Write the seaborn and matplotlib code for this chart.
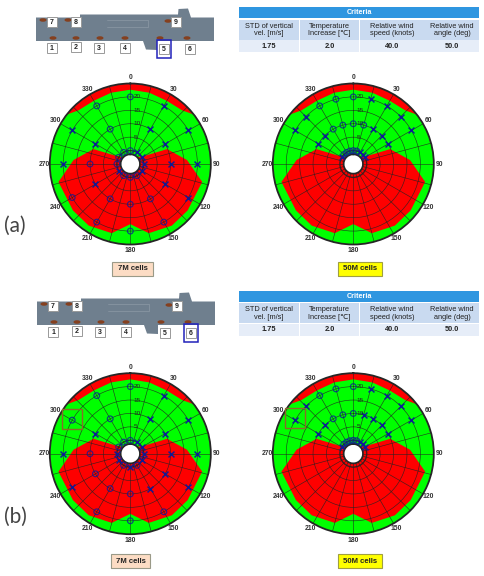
#!/usr/bin/env python3
"""Polar wind envelopes for 7M / 50M cells, two ship positions."""

import matplotlib
matplotlib.use("Agg")
import matplotlib.pyplot as plt
import numpy as np
import pandas as pd
import seaborn as sns
from matplotlib.patches import Ellipse, Polygon, Rectangle

W, H = 484, 576

# wind angle [deg], wind speed [knots]
a7_circle_theta = [0, 330, 330, 270, 240, 210, 150, 210, 150, 180, 180, 0, 330, 300, 270, 210, 150, 180]
a7_circle_r = [20, 20, 10, 10, 20, 10, 10, 20, 20, 10, 20, 0, 0, 0, 0, 0, 0, 0]
a7_cross_theta = [30, 30, 300, 60, 300, 60, 270, 90, 90, 240, 120, 120, 30, 60, 90, 120, 240]
a7_cross_r = [20, 10, 20, 20, 10, 10, 20, 20, 10, 10, 10, 20, 0, 0, 0, 0, 0]

a50_circle_theta = [0, 345, 330, 0, 15, 345, 330, 315, 330, 345, 0, 15]
a50_circle_r = [20, 20, 20, 10, 10, 10, 10, 0, 0, 0, 0, 0]
a50_cross_theta = [15, 30, 45, 60, 315, 300, 30, 45, 60, 315, 300, 300, 30, 45, 60]
a50_cross_r = [20, 20, 20, 20, 20, 20, 10, 10, 10, 10, 10, 0, 0, 0, 0]

b7_circle_theta = [0, 330, 330, 300, 270, 240, 210, 210, 150, 180, 180, 0, 330, 300, 210, 150]
b7_circle_r = [20, 20, 10, 20, 10, 10, 10, 20, 20, 10, 20, 0, 0, 0, 0, 0]
b7_cross_theta = [30, 30, 60, 300, 60, 270, 90, 90, 120, 240, 120, 150, 30, 60, 270, 90, 240, 120, 180]
b7_cross_r = [20, 10, 20, 10, 10, 20, 20, 10, 10, 20, 20, 10, 0, 0, 0, 0, 0, 0, 0]

b50_circle_theta = [0, 345, 330, 0, 345, 330, 315, 330, 345, 0, 15]
b50_circle_r = [20, 20, 20, 10, 10, 10, 0, 0, 0, 0, 0]
b50_cross_theta = [15, 30, 45, 60, 315, 300, 15, 30, 45, 60, 315, 300, 300, 30, 45, 60]
b50_cross_r = [20, 20, 20, 20, 20, 20, 10, 10, 10, 10, 10, 10, 0, 0, 0, 0]

# red limit regions, shared by all four panels
crown_theta = [-53, -44, -30, -15, 0, 15, 30, 44, 53]
crown_r = [25.3, 22.8, 22.2, 22.5, 22.7, 22.5, 22.2, 22.8, 25.3]
lobe_theta = [45, 60, 68, 86, 104, 129, 146, 165, 180, 195, 214, 231, 256, 274, 292, 300, 315]
lobe_r = [-1.5, 1, 9.8, 16.2, 22.6, 22.5, 22.7, 21.7, 17.4, 21.7, 22.7, 22.5, 22.6, 16.2, 9.8, 1, -1.5]

angle_ticks = list(range(0, 360, 15))
angle_labels = list(range(0, 360, 30))
speed_ticks = [5, 10, 15, 20]

table_header = "Criteria"
table_columns = ["STD of vertical\nvel. [m/s]", "Temperature\nIncrease [℃]", "Relative wind\nspeed (knots)", "Relative wind\nangle (deg)"]
table_values = ["1.75", "2.0", "40.0", "50.0"]
table_edges = [239, 299.5, 359.5, 425, 479]

ship_x = [36, 80, 80, 178, 178.5, 188, 190, 191, 214, 214, 157, 157, 146, 143, 36]
ship_y = [17.5, 17.5, 14.5, 14.5, 9, 8.5, 14.5, 17.5, 17.5, 41, 41, 50, 49.5, 41, 41]
blob_x = [43, 68, 168, 53, 76, 100, 125, 160, 187]
blob_y = [20, 20, 21, 38, 38, 38, 38, 38, 38]
tag_names = ["7", "8", "9", "1", "2", "3", "4", "5", "6"]
tag_x = [52, 76, 176, 52, 76, 99, 125, 164, 190]
tag_y = [22, 22, 22, 48, 47, 48, 48, 49, 49]

RED = "#fe0000"
GREEN = "#00ff00"
MARK = "#0c1a9a"


def draw_polar(fig, cx, cy, circles, crosses):
    R = 80.5
    ax = fig.add_axes([(cx - R) / W, 1 - (cy + R) / H, 2 * R / W, 2 * R / H], projection="polar")
    ax.set_theta_zero_location("N")
    ax.set_theta_direction(-1)
    ax.set_facecolor(GREEN)

    t = np.radians(crown_theta)
    ax.fill(np.r_[t, t[::-1]], np.r_[crown_r, np.full(len(t), 27)], color=RED, lw=0, zorder=1)
    ax.fill(np.radians(lobe_theta), lobe_r, color=RED, lw=0, zorder=1)

    df_o = pd.DataFrame({"theta": np.radians(circles[0]), "r": circles[1]})
    df_x = pd.DataFrame({"theta": np.radians(crosses[0]), "r": crosses[1]})
    sns.scatterplot(data=df_o, x="theta", y="r", marker="o", s=17, facecolor="none", edgecolor=MARK,
                    linewidth=0.85, alpha=0.8, zorder=3, ax=ax)
    sns.scatterplot(data=df_x, x="theta", y="r", marker="x", s=18, color=MARK, linewidth=1.1,
                    alpha=0.95, zorder=3, ax=ax)
    ax.set_xlabel("")
    ax.set_ylabel("")

    ax.set_rorigin(-5)
    ax.set_rlim(-1.4, 25)
    ax.set_thetagrids(angle_ticks, [""] * len(angle_ticks))
    ax.set_rgrids([0] + speed_ticks, labels=[""] * 5)
    ax.set_axisbelow(False)
    ax.grid(True, color="#222222", lw=0.45, alpha=0.85)
    ax.yaxis.get_gridlines()[0].set_linewidth(1.0)
    ax.spines["polar"].set_linewidth(1.3)
    ax.spines["inner"].set_visible(False)
    for a in angle_labels:
        ax.text(np.radians(a), 27.2, str(a), fontsize=4.9, weight="bold", color="#333333",
                ha="center", va="center", clip_on=False)
    for v in speed_ticks:
        ax.annotate(str(v), (0, v), xytext=(2.2, 0), textcoords="offset points", fontsize=4.6,
                    color="#222222", va="center", ha="left", zorder=4)
    return ax


def draw_table(ov, top):
    ov.add_patch(Rectangle((239, top), 240, 11, fc="#2f96e0", ec="none"))
    ov.text(359, top + 5.7, table_header, color="white", fontsize=5.2, weight="bold", ha="center", va="center")
    for i in range(4):
        x0, x1 = table_edges[i] + 0.4, table_edges[i + 1] - 0.4
        ov.add_patch(Rectangle((x0, top + 12.7), x1 - x0, 19.8, fc="#c9daf0", ec="none"))
        ov.add_patch(Rectangle((x0, top + 33), x1 - x0, 12, fc="#e6edf8", ec="none"))
        xm = (x0 + x1) / 2
        ov.text(xm, top + 22.6, table_columns[i], fontsize=5.3, ha="center", va="center", color="#222222", linespacing=1.1)
        ov.text(xm, top + 39, table_values[i], fontsize=5.3, ha="center", va="center", color="#222222", weight="bold")


def draw_ship(ov, dx, dy, pick):
    ov.add_patch(Polygon(np.c_[np.array(ship_x) + dx, np.array(ship_y) + dy], fc="#6f7f8e", ec="none"))
    ov.plot(np.array([107, 148, 148, 107]) + dx, np.array([20, 20, 27, 27]) + dy, color="#8d99a6", lw=0.5)
    for bx, by in zip(blob_x, blob_y):
        ov.add_patch(Ellipse((bx + dx, by + dy), 7, 3.5, fc="#85401f", ec="none"))
    for name, tx, ty in zip(tag_names, tag_x, tag_y):
        ov.add_patch(Rectangle((tx + dx - 4.6, ty + dy - 4.6), 9.2, 9.2, fc="white", ec="#999999", lw=0.7))
        ov.text(tx + dx, ty + dy + 0.2, name, fontsize=5, weight="bold", ha="center", va="center", color="#222222")
        if name == pick:
            ov.add_patch(Rectangle((tx + dx - 7, ty + dy - 9.5), 14, 18, fc="none", ec="#2222bb", lw=1.1))


def draw_tag(ov, x0, x1, y0, y1, text, fc, ec):
    ov.add_patch(Rectangle((x0, y0 + 1), x1 - x0, y1 - y0, fc="#999999", ec="none"))
    ov.add_patch(Rectangle((x0, y0), x1 - x0, y1 - y0, fc=fc, ec=ec, lw=0.8))
    ov.text((x0 + x1) / 2, (y0 + y1) / 2 + 0.3, text, fontsize=5.6, weight="bold", ha="center", va="center", color="#222222")


def main():
    sns.set_theme(style="white")
    plt.rcParams["font.family"] = ["Liberation Sans", "DejaVu Sans"]
    fig = plt.figure(figsize=(W / 100, H / 100), dpi=100)

    draw_polar(fig, 130.3, 164, (a7_circle_theta, a7_circle_r), (a7_cross_theta, a7_cross_r))
    draw_polar(fig, 353.3, 164, (a50_circle_theta, a50_circle_r), (a50_cross_theta, a50_cross_r))
    draw_polar(fig, 130.3, 453.7, (b7_circle_theta, b7_circle_r), (b7_cross_theta, b7_cross_r))
    draw_polar(fig, 353.3, 453.7, (b50_circle_theta, b50_circle_r), (b50_cross_theta, b50_cross_r))

    ov = fig.add_axes([0, 0, 1, 1], zorder=5)
    ov.set_xlim(0, W)
    ov.set_ylim(H, 0)
    ov.axis("off")

    draw_ship(ov, 0, 0, "5")
    draw_ship(ov, 1, 284, "6")
    draw_table(ov, 7.3)
    draw_table(ov, 290.7)

    draw_tag(ov, 112, 153, 261.5, 275.5, "7M cells", "#fcdcc4", "#9a9a88")
    draw_tag(ov, 338, 382, 261.5, 275.5, "50M cells", "#ffff00", "#a0a040")
    draw_tag(ov, 111, 150, 554, 568, "7M cells", "#fcdcc4", "#9a9a88")
    draw_tag(ov, 338, 382, 554, 568, "50M cells", "#ffff00", "#a0a040")

    # highlighted test point on the (b) panels
    ov.add_patch(Rectangle((62.3, 409.3), 19.4, 20, fc="none", ec="#8a6a2a", lw=1.0))
    ov.add_patch(Rectangle((284.7, 408.3), 20, 20, fc="none", ec="#8a6a2a", lw=1.0))

    ov.text(15, 226, "(a)", fontsize=15, family="Lato", ha="center", va="center", color="#444444")
    ov.text(15, 517, "(b)", fontsize=15, family="Lato", ha="center", va="center", color="#444444")

    fig.savefig("out.png", dpi=100)
    plt.close(fig)


if __name__ == "__main__":
    main()
